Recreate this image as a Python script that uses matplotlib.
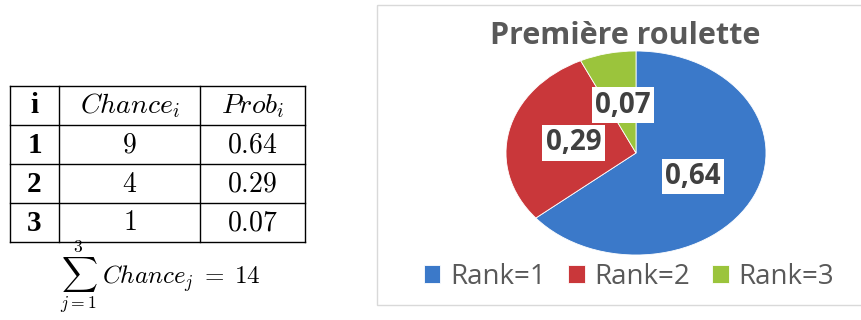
import numpy as np
import matplotlib.pyplot as plt
from matplotlib.patches import Rectangle

plt.rcParams['mathtext.fontset'] = 'cm'

# table data
ranks = [1, 2, 3]
chances = [9, 4, 1]
probs = [0.64, 0.29, 0.07]
total = 14

# pie data
rank_labels = ['Rank=1', 'Rank=2', 'Rank=3']
pie_colors = ['#3b79c9', '#c9373a', '#9bc43c']

W, H = 861, 320
fig = plt.figure(figsize=(W / 100, H / 100), dpi=100)

# ---- left side: table drawn in pixel coordinates ----
tab = fig.add_axes([0, 0, 1, 1])
tab.set_xlim(0, W)
tab.set_ylim(H, 0)
tab.axis('off')

col_x = [10, 59, 200, 305]
row_y = [86, 125, 164, 203, 242]
for x in col_x:
    tab.plot([x, x], [row_y[0], row_y[-1]], color='black', lw=1.0)
for y in row_y:
    tab.plot([col_x[0], col_x[-1]], [y, y], color='black', lw=1.0)

def cell_center(c, r):
    return (col_x[c] + col_x[c + 1]) / 2, (row_y[r] + row_y[r + 1]) / 2

bold_serif = dict(family='Liberation Serif', fontweight='bold', fontsize=21)

headers = [r'$Chance_i$', r'$Prob_i$']
x, y = cell_center(0, 0)
tab.text(x, y, 'i', ha='center', va='center', **bold_serif)
for c, h in enumerate(headers, start=1):
    x, y = cell_center(c, 0)
    tab.text(x, y, h, fontsize=20, ha='center', va='center')

for r in range(len(ranks)):
    x, y = cell_center(0, r + 1)
    tab.text(x, y + 1, str(ranks[r]), ha='center', va='center', **bold_serif)
    row = [r'$%d$' % chances[r], r'$%.2f$' % probs[r]]
    for c, t in enumerate(row, start=1):
        x, y = cell_center(c, r + 1)
        tab.text(x, y, t, fontsize=20, ha='center', va='center')

tab.text(160, 277, r'$\sum_{j=1}^{3}\;Chance_j\;=\;%d$' % total,
         fontsize=18, ha='center', va='center')

# chart frame
tab.add_patch(Rectangle((377, 5), 490, 300, fill=False,
                        edgecolor='#d9d9d9', lw=1.0))
tab.text(625, 36, 'Première roulette', fontsize=22, fontweight='bold',
         color='#595959', family='Open Sans', ha='center', va='center')

# ---- right side: pie ----
cx, cy, rx, ry = 636, 153, 130, 102
ax = fig.add_axes([(cx - rx) / W, 1 - (cy + ry) / H, 2 * rx / W, 2 * ry / H])
wedges, _ = ax.pie(probs, colors=pie_colors, startangle=90, counterclock=False,
                   wedgeprops=dict(edgecolor='white', linewidth=0.6))
ax.set_aspect('auto')
ax.set_xlim(-1, 1)
ax.set_ylim(-1, 1)

label_pos = [(0.44, -0.23), (-0.48, 0.1), (-0.1, 0.47)]
for p, (lx, ly) in zip(probs, label_pos):
    ax.text(lx, ly, ('%.2f' % p).replace('.', ','), fontsize=20,
            fontweight='bold', color='#404040', family='Open Sans',
            ha='center', va='center',
            bbox=dict(facecolor='white', edgecolor='none', pad=2.5))

leg = fig.legend(wedges, rank_labels, loc='center', ncol=3,
                 bbox_to_anchor=(629 / W, 1 - 277 / H), frameon=False,
                 handlelength=0.6, handleheight=0.6,
                 handletextpad=0.35, columnspacing=0.8,
                 prop=dict(family='Open Sans', size=20))
for t in leg.get_texts():
    t.set_color('#595959')

fig.savefig('out.png', dpi=100)
